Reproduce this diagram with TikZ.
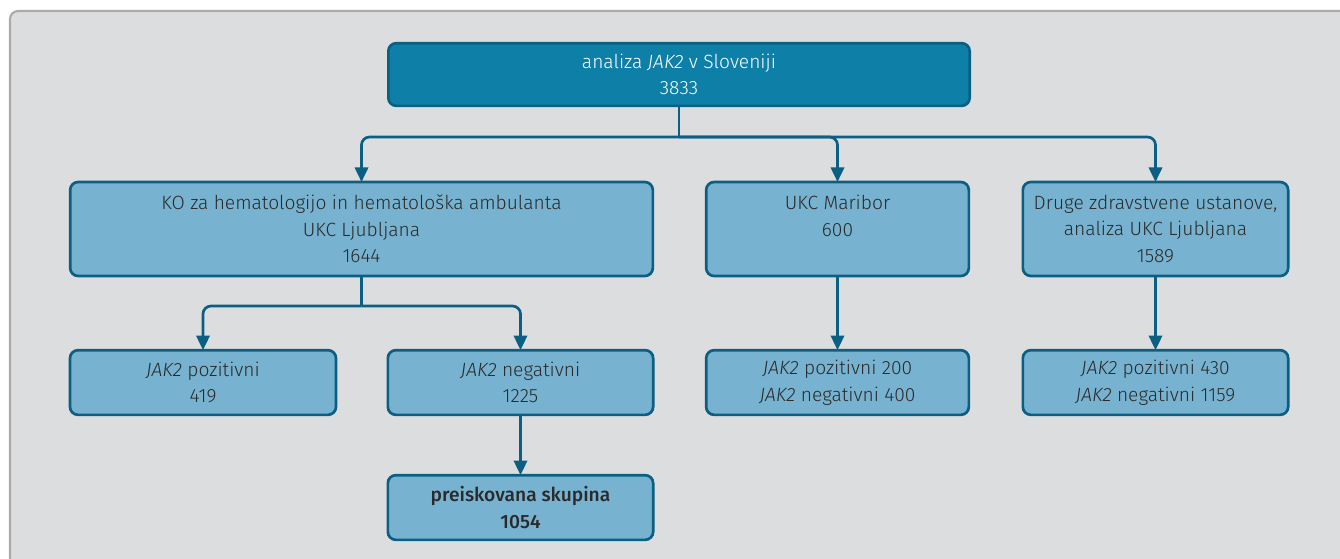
\documentclass[tikz,border=0pt]{standalone}
\usepackage{fontspec}
\setmainfont{Fira Sans Light}[BoldFont={Fira Sans Medium}, ItalicFont={Fira Sans Light Italic}]
\usetikzlibrary{arrows.meta, positioning}

\definecolor{panelfill}{HTML}{DCDDDF}
\definecolor{panelline}{HTML}{ABABAB}
\definecolor{topfill}{HTML}{0E80A8}
\definecolor{boxfill}{HTML}{77B3D0}
\definecolor{boxline}{HTML}{0B5F82}
\definecolor{txt}{HTML}{2A2A2A}

\tikzset{
  box/.style={draw=boxline, fill=boxfill, line width=2pt, rounded corners=6pt,
    text=txt, align=center, inner sep=0pt, font=\fontsize{14.4pt}{20pt}\selectfont},
  topbox/.style={box, fill=topfill, text=white},
  link/.style={draw=boxline, line width=2pt, rounded corners=6pt},
  arr/.style={link, -{Triangle[width=10pt,length=11pt]}, shorten >=-1pt}
}

\begin{document}
\begin{tikzpicture}[x=0.75pt, y=-0.75pt]
  \useasboundingbox (0,0) rectangle (1340,558);
  % panel
  \draw [panelline, fill=panelfill, line width=1.6pt, rounded corners=6pt]
    (10,11) rectangle (1360,580);

  % boxes
  \node (top) at (679,74.5) [topbox, minimum width=436pt, minimum height=47pt]
    {analiza \textit{JAK2} v Sloveniji\\3833};
  \node (lju) at (361.5,229) [box, minimum width=437pt, minimum height=70.5pt]
    {KO za hematologijo in hematološka ambulanta\\UKC Ljubljana\\1644};
  \node (mb) at (837.5,229) [box, minimum width=197pt, minimum height=70.5pt]
    {UKC Maribor\\600\\\phantom{0}};
  \node (dru) at (1155.5,229) [box, minimum width=199pt, minimum height=70.5pt]
    {Druge zdravstvene ustanove,\\analiza UKC Ljubljana\\1589};
  \node (ljupos) at (203,382.5) [box, minimum width=199.5pt, minimum height=48.5pt]
    {\textit{JAK2} pozitivni\\419};
  \node (ljuneg) at (520.5,382.5) [box, minimum width=199pt, minimum height=48.5pt]
    {\textit{JAK2} negativni\\1225};
  \node (mbres) at (837.5,382.5) [box, minimum width=197pt, minimum height=48.5pt]
    {\textit{JAK2} pozitivni 200\\\textit{JAK2} negativni 400};
  \node (drures) at (1155.5,382.5) [box, minimum width=199pt, minimum height=48.5pt]
    {\textit{JAK2} pozitivni 430\\\textit{JAK2} negativni 1159};
  \node (skup) at (520.5,507.5) [box, minimum width=199pt, minimum height=48.5pt]
    {\textbf{preiskovana skupina}\\\textbf{1054}};

  % connectors
  \coordinate (split1) at (679,137);
  \coordinate (split2) at (361.5,306);
  \draw [link] (top.south) -- (split1);
  \draw [arr] (split1) -| (lju.north);
  \draw [arr] (split1) -| (mb.north);
  \draw [arr] (split1) -| (dru.north);
  \draw [link] (lju.south) -- (split2);
  \draw [arr] (split2) -| (ljupos.north);
  \draw [arr] (split2) -| (ljuneg.north);
  \draw [arr] (mb.south) -- (mbres.north);
  \draw [arr] (dru.south) -- (drures.north);
  \draw [arr] (ljuneg.south) -- (skup.north);
\end{tikzpicture}
\end{document}
